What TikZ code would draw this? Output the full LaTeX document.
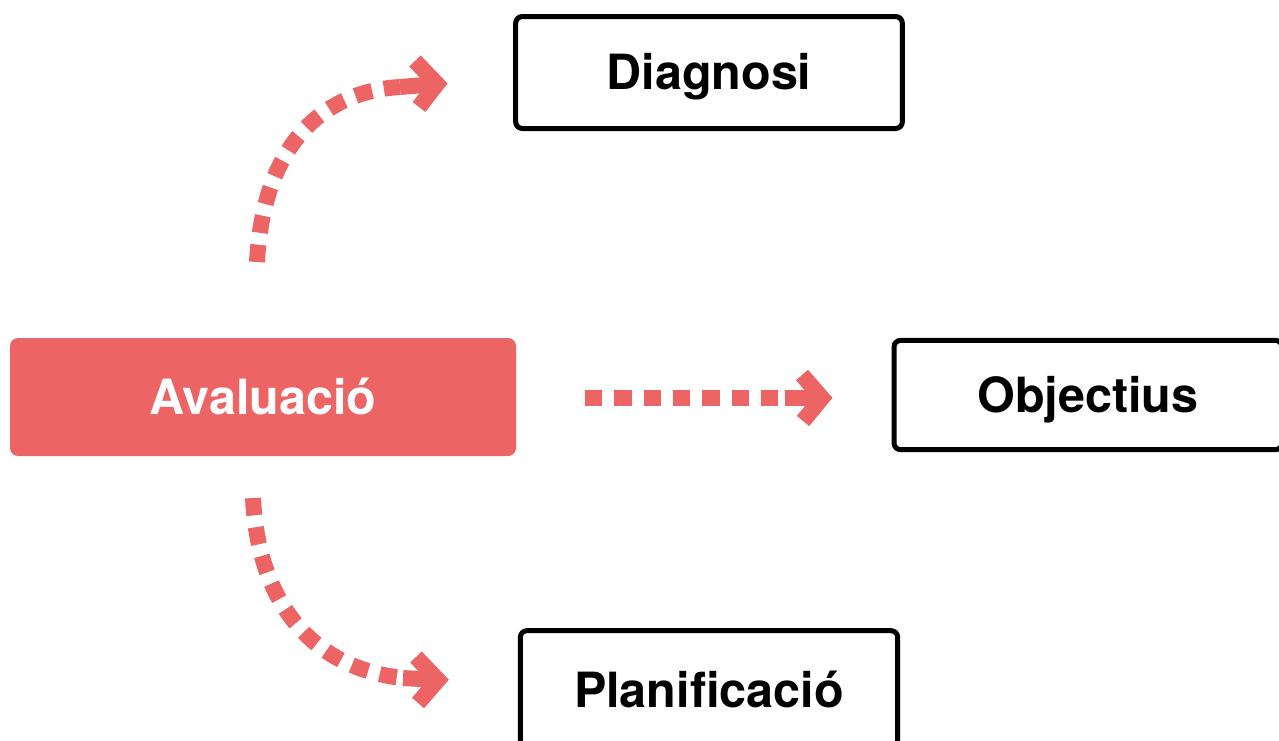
\documentclass[tikz,border=0pt]{standalone}
\usepackage{fontspec}
\setmainfont{TeX Gyre Heros}
\definecolor{accent}{HTML}{EC6464}
\begin{document}
\begin{tikzpicture}[x=0.75pt,y=-0.75pt,
  lbl/.style={font=\fontsize{36.4}{40}\selectfont\bfseries,text height=26.2pt,text depth=0pt},
  outbox/.style={draw=black,line width=3.75pt,rounded corners=5pt,fill=white,lbl},
  redbox/.style={fill=accent,text=white,rounded corners=6pt,lbl},
  dashline/.style={draw=accent,line width=12pt,dash pattern=on 13pt off 9pt},
  solidline/.style={draw=accent,line width=12pt},
  headline/.style={draw=accent,line width=12pt,line join=miter,miter limit=4}]
\useasboundingbox (0,0) rectangle (1279,740);

\node[redbox,minimum width=379.5pt,minimum height=88.5pt] (aval) at (263,397) {Avaluació};
\node[outbox,minimum width=290pt,minimum height=84pt] (diag) at (709,72.5) {Diagnosi};
\node[outbox,minimum width=291pt,minimum height=82pt] (obj) at (1088,395) {Objectius};
\node[outbox,minimum width=283pt,minimum height=89pt] (plan) at (709,690) {Planificació};

% top arrow
\coordinate (t0) at (257,262);
\coordinate (t1) at (400,87);
\coordinate (t2) at (437,84);
\draw[dashline] (t0) .. controls (263,150) and (318,92) .. (t1);
\draw[solidline] (t1) -- (t2);
\draw[headline] (415,61) -- (t2) -- (419,107);

% middle arrow
\coordinate (m0) at (585,398);
\coordinate (m1) at (785,398);
\coordinate (m2) at (822,398);
\draw[dashline] (m0) -- (m1);
\draw[solidline] (m1) -- (m2);
\draw[headline] (802,375) -- (m2) -- (803,421);

% bottom arrow
\coordinate (b0) at (253,498);
\coordinate (b1) at (403,678);
\coordinate (b2) at (438,680);
\draw[dashline] (b0) .. controls (258,600) and (310,668) .. (b1);
\draw[solidline] (b1) -- (b2);
\draw[headline] (416,657) -- (b2) -- (418,703);
\end{tikzpicture}
\end{document}
